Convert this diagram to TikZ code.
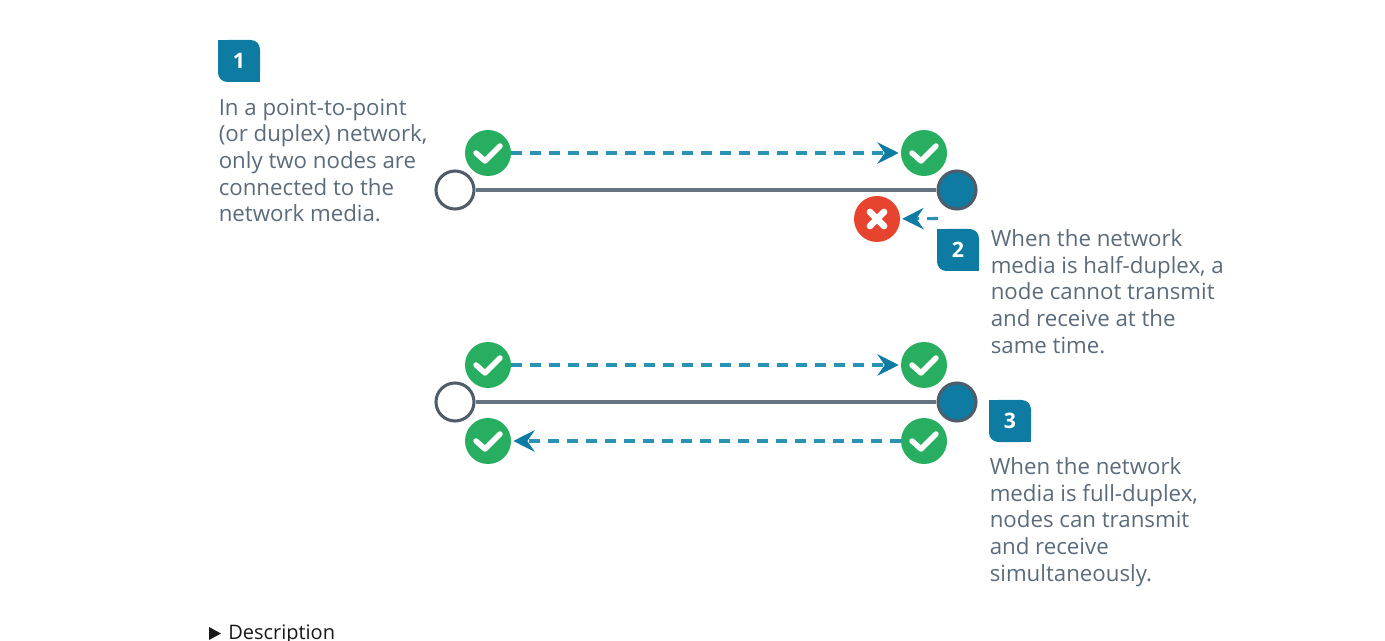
\documentclass[tikz,border=0pt]{standalone}
\usepackage{fontspec}
\setmainfont{Open Sans}
\usetikzlibrary{arrows.meta}
\definecolor{teal}{HTML}{0E7BA3}
\definecolor{dashteal}{HTML}{2A92B5}
\definecolor{okgreen}{HTML}{27AE60}
\definecolor{badred}{HTML}{E74430}
\definecolor{wire}{HTML}{66747F}
\definecolor{hostline}{HTML}{4F5D6B}
\definecolor{bodytext}{HTML}{5B6B7A}
\tikzset{
  okmark/.style={circle, fill=okgreen, inner sep=0, minimum size=34.5pt},
  badmark/.style={circle, fill=badred, inner sep=0, minimum size=34.5pt},
  host/.style={circle, draw=hostline, line width=2.3pt, inner sep=0, minimum size=28.5pt},
  media/.style={wire, line width=2.3pt},
  signal/.style={dashteal, line width=2.3pt, dash pattern=on 8.25pt off 6pt, shorten >=1.5pt,
    -{Stealth[teal, length=16pt, width=16pt, inset=5.5pt]}},
  badgenum/.style={text=white, font=\fontsize{16pt}{16pt}\selectfont\bfseries, inner sep=0},
  caption/.style={text=bodytext, align=left, anchor=north west, inner sep=0,
    font=\fontsize{16.7pt}{20pt}\selectfont},
  pics/tick/.style={code={
    \draw[white, line width=4.1pt, line cap=round, line join=round] (-12,0) -- (-3,8) -- (12,-7);}},
  pics/cross/.style={code={
    \draw[white, line width=5pt, line cap=round] (-7,-7) -- (7,7) (-7,7) -- (7,-7);}}
}
\begin{document}
\begin{tikzpicture}[x=0.75pt, y=-0.75pt]

  \useasboundingbox (0,0) rectangle (1385,641);

  % Rounded badge, 42 wide
  \def\badgefill(#1,#2){
    \fill[teal, rounded corners=7pt] (#1,#2) -- (#1+42,#2) -- (#1+42,#2+42) -- (#1,#2+42) -- cycle;
    \fill[teal] (#1,#2) rectangle +(12,12);
    \fill[teal] (#1+30,#2+30) rectangle +(12,12);
  }

  % Badge 1
  \badgefill(218,40)
  \node[badgenum] (numone) at (239,61) {1};
  \node[caption] (textone) at (218.5,98.5) {In a point-to-point\\(or duplex) network,\\only two nodes are\\connected to the\\network media.};

  % Badge 2
  \badgefill(937,229)
  \node[badgenum] (numtwo) at (958,250) {2};
  \node[caption] (texttwo) at (990.5,229.3) {When the network\\media is half-duplex, a\\node cannot transmit\\and receive at the\\same time.};

  % Badge 3
  \badgefill(989,400)
  \node[badgenum] (numthree) at (1010,421) {3};
  \node[caption] (textthree) at (989.5,457.3) {When the network\\media is full-duplex,\\nodes can transmit\\and receive\\simultaneously.};

  % Half duplex link
  \node[host, fill=white] (lefta) at (455,190) {};
  \node[host, fill=teal] (righta) at (957,190) {};
  \draw[media] (lefta) -- (righta);
  \node[okmark] (oka) at (488,153) {};
  \node[okmark] (okb) at (924,153) {};
  \pic at (oka) {tick};
  \pic at (okb) {tick};
  \draw[signal] (oka) -- (okb);
  \node[badmark] (nogo) at (877,219) {};
  \pic at (nogo) {cross};
  \coordinate (nogostart) at (938,218.5);
  \draw[signal] (nogostart) -- (nogo);

  % Full duplex link
  \node[host, fill=white] (leftb) at (455,402) {};
  \node[host, fill=teal] (rightb) at (957,402) {};
  \draw[media] (leftb) -- (rightb);
  \node[okmark] (okc) at (488,365) {};
  \node[okmark] (okd) at (924,365) {};
  \node[okmark] (oke) at (488,441) {};
  \node[okmark] (okf) at (924,441) {};
  \pic at (okc) {tick};
  \pic at (okd) {tick};
  \pic at (oke) {tick};
  \pic at (okf) {tick};
  \draw[signal] (okc) -- (okd);
  \draw[signal] (okf) -- (oke);

  % Footer
  \fill[black!90] (209,627) -- (221,633.5) -- (209,640) -- cycle;
  \node[anchor=base west, inner sep=0, text=black!90, font=\fontsize{15pt}{18pt}\selectfont] (descr) at (228,639) {Description};

\end{tikzpicture}
\end{document}
